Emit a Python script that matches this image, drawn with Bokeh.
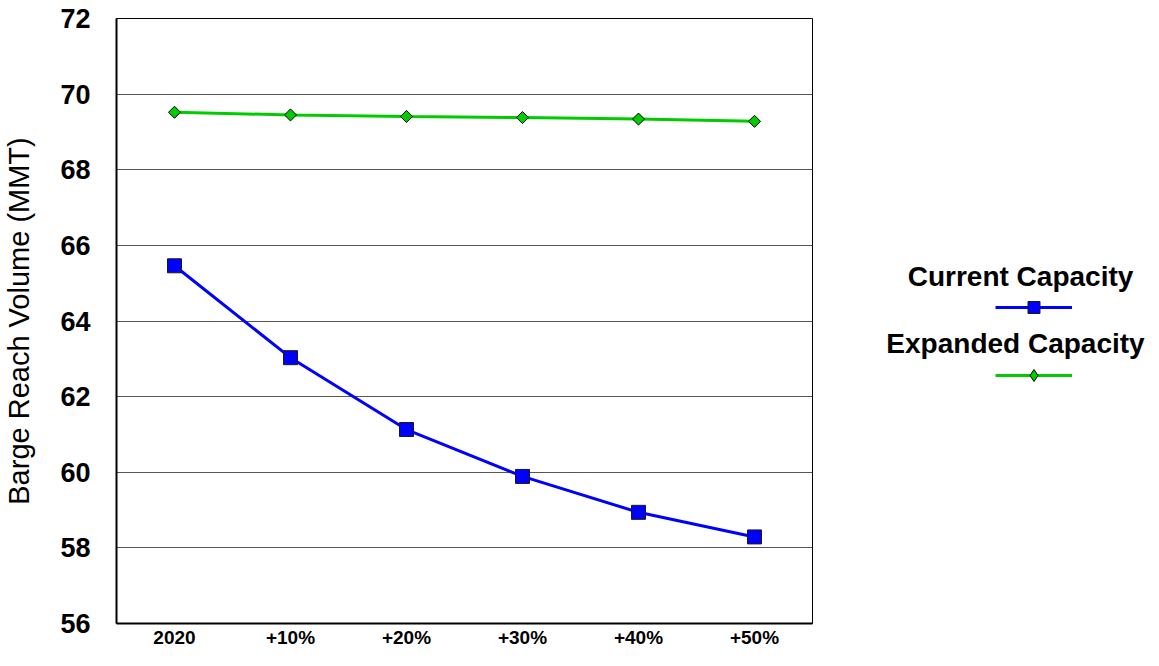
import math
from bokeh.plotting import figure
from bokeh.models import (FactorRange, Range1d, FixedTicker, Legend, LegendItem, Label)
from bokeh.layouts import row
from bokeh.embed import file_html
from bokeh.resources import INLINE

categories = ["2020", "+10%", "+20%", "+30%", "+40%", "+50%"]
current_capacity = [65.46, 63.03, 61.13, 59.89, 58.94, 58.29]
expanded_capacity = [69.52, 69.45, 69.41, 69.38, 69.34, 69.28]
y_ticks = [56, 58, 60, 62, 64, 66, 68, 70, 72]
series_names = ["Current Capacity", "Expanded Capacity"]

FONT = "Liberation Sans"
BLUE = "#0000FF"
GREEN = "#00CC00"
NAN = float("nan")

MAIN_W = 816
H = 650

p = figure(width=MAIN_W, height=H, output_backend="svg", toolbar_location=None,
           x_range=FactorRange(*categories, range_padding=0),
           y_range=Range1d(56, 72),
           min_border_left=109, min_border_right=4, min_border_top=18, min_border_bottom=25)

p.background_fill_color = "white"
p.border_fill_color = "white"
p.outline_line_color = "black"
p.outline_line_width = 1

p.xgrid.grid_line_color = None
p.ygrid.grid_line_color = "#555555"
p.ygrid.grid_line_width = 1
p.yaxis.ticker = FixedTicker(ticks=y_ticks)

for ax in (p.xaxis[0], p.yaxis[0]):
    ax.axis_line_color = "black"
    ax.axis_line_width = 2
    ax.major_tick_line_color = None
    ax.minor_tick_line_color = None
    ax.major_tick_out = 0
    ax.major_tick_in = 0
    ax.major_label_text_font = FONT
    ax.major_label_text_font_style = "bold"
    ax.major_label_text_color = "black"

p.xaxis.major_label_text_font_size = "19px"
p.xaxis.major_label_standoff = 3
p.yaxis.major_label_text_font_size = "27px"
p.yaxis.major_label_standoff = 26
p.yaxis.axis_label = "Barge Reach Volume (MMT)"
p.yaxis.axis_label_text_font = FONT
p.yaxis.axis_label_text_font_size = "29px"
p.yaxis.axis_label_text_font_style = "normal"
p.yaxis.axis_label_text_color = "black"
p.yaxis.axis_label_standoff = 22

p.line(categories, current_capacity, line_color=BLUE, line_width=3)
p.scatter(categories, current_capacity, marker="square", size=14,
          fill_color=BLUE, line_color="#1a1a1a", line_width=1)
p.line(categories, expanded_capacity, line_color=GREEN, line_width=3)
p.scatter(categories, expanded_capacity, marker="square", size=8.5, angle=math.pi / 4,
          fill_color=GREEN, line_color="black", line_width=1)

# Legend panel (pixel-based coordinates matching canvas space)
lg = figure(width=1150 - MAIN_W, height=H, output_backend="svg", toolbar_location=None,
            x_range=Range1d(MAIN_W, 1150), y_range=Range1d(H, 0),
            min_border=0, x_axis_location=None, y_axis_location=None)
lg.outline_line_color = None
lg.grid.grid_line_color = None
lg.background_fill_color = "white"
lg.border_fill_color = "white"

# legend proxies (no visible data)
lr1 = lg.line([NAN], [NAN], line_color=BLUE, line_width=3)
lm1 = lg.scatter([NAN], [NAN], marker="square", size=14, fill_color=BLUE, line_color="#1a1a1a", line_width=1)
lr2 = lg.line([NAN], [NAN], line_color=GREEN, line_width=3)
lm2 = lg.scatter([NAN], [NAN], marker="diamond", size=12,
                 fill_color=GREEN, line_color="black", line_width=1)

legend = Legend(items=[LegendItem(label=" ", renderers=[lr1, lm1]),
                       LegendItem(label=" ", renderers=[lr2, lm2])],
                location=(179, 233), glyph_width=77, glyph_height=30,
                spacing=38, padding=0, margin=0, label_standoff=0, label_width=0,
                label_text_font_size="2px", border_line_alpha=0,
                background_fill_alpha=0)
lg.add_layout(legend, "center")

for txt, cx, cy in [(series_names[0], 1020, 277), (series_names[1], 1015, 349)]:
    lg.add_layout(Label(x=cx, y=cy, text=txt,
                        text_font=FONT, text_font_size="28px", text_font_style="bold",
                        text_color="black", text_align="center", text_baseline="middle"))

layout = row(p, lg, spacing=0)
open("out.html", "w").write(file_html(layout, INLINE))
